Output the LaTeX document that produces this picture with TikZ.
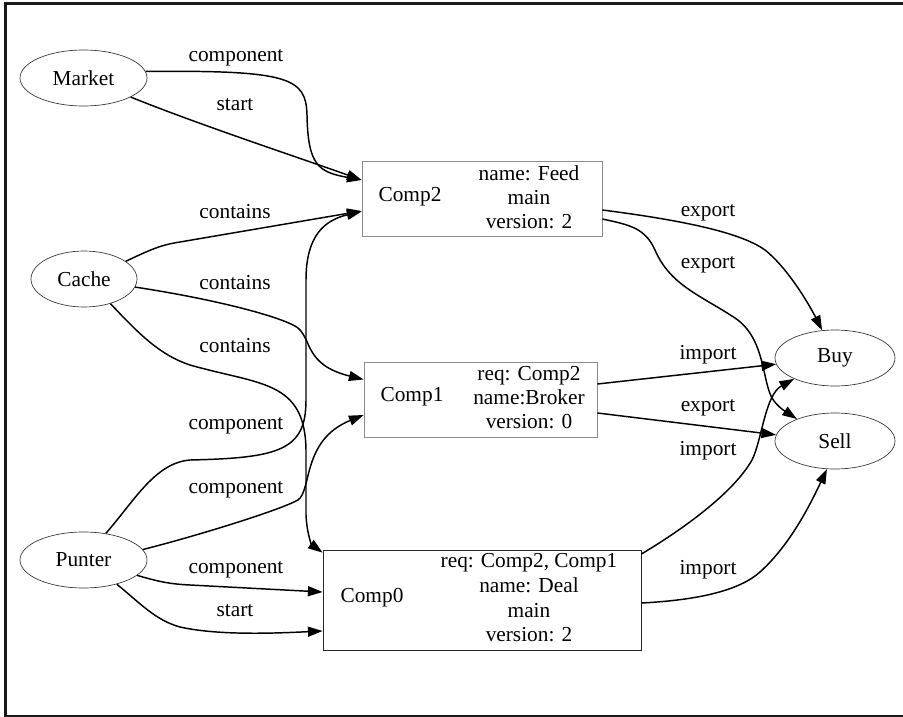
\documentclass[tikz,border=0pt]{standalone}
\usepackage{fontspec}
\setmainfont{Liberation Serif}
\usetikzlibrary{arrows.meta,calc,shapes.geometric}
\begin{document}
\begin{tikzpicture}[x=0.75pt,y=-0.75pt,
  every node/.style={font=\fontsize{16}{18}\selectfont},
  oval/.style={ellipse,draw=black!80,line width=0.5pt,inner sep=0pt,minimum height=42pt},
  compbox/.style={rectangle,draw=black!45,line width=0.6pt,inner sep=0pt},
  lbl/.style={inner sep=0pt},
  info/.style={inner sep=0pt,align=center},
  edge/.style={line width=1.1pt,-{Triangle[length=11pt,width=7.5pt]}},
  frame/.style={line width=2.25pt,black!90}]
\useasboundingbox (0,0) rectangle (903,717);
\draw[frame] (5.5,3.5) -- (903,3.5);
\draw[frame] (5.5,2) -- (5.5,717);
\draw[frame,line width=1.5pt] (5.5,716) -- (903,716);

% nodes
\node[oval,minimum width=95.25pt] (market) at (83.5,78) {Market};
\node[oval,minimum width=79.5pt] (cache) at (84,279) {Cache};
\node[oval,minimum width=95.25pt] (punter) at (83.5,560) {Punter};
\node[oval,minimum width=90pt] (buy) at (835,358) {Buy};
\node[oval,minimum width=90pt] (sell) at (835,441) {Sell};

\node[compbox,minimum width=180pt,minimum height=56.25pt] (comp2) at (482,198.5) {};
\node[compbox,minimum width=174.75pt,minimum height=56.25pt] (comp1) at (480.5,399.5) {};
\node[compbox,draw=black!85,minimum width=238.5pt,minimum height=75pt] (comp0) at (482,600) {};

\node[lbl] (c2name) at (410,197) {Comp2};
\node[info] (c2info) at (529,197.5) {name: Feed\\main\\version: 2};
\node[lbl] (c1name) at (412,397) {Comp1};
\node[info] (c1info) at (529,397.5) {req: Comp2\\name:Broker\\version: 0};
\node[lbl] (c0name) at (372,598) {Comp0};
\node[info,font=\fontsize{16}{18.5}\selectfont] (c0info) at (529,598) {req: Comp2, Comp1\\name: Deal\\main\\version: 2};

% edge labels
\node[lbl] (l1) at (236,58) {component};
\node[lbl] (l2) at (235,105) {start};
\node[lbl] (l3) at (235,212) {contains};
\node[lbl] (l4) at (235,283) {contains};
\node[lbl] (l5) at (235,346) {contains};
\node[lbl] (l6) at (236,426) {component};
\node[lbl] (l7) at (236,490) {component};
\node[lbl] (l8) at (236,570) {component};
\node[lbl] (l9) at (235,611) {start};
\node[lbl] (l10) at (708,213) {export};
\node[lbl] (l11) at (708,265) {export};
\node[lbl] (l12) at (708,355) {import};
\node[lbl] (l13) at (708,408) {export};
\node[lbl] (l14) at (708,451) {import};
\node[lbl] (l15) at (708,570) {import};

% edges
\draw[edge] (market.6) .. controls (290,70) and (306,78) .. (307,115)
  .. controls (308,165) and (318,172) .. ($(comp2.west)+(0,-18.5)$);
\draw[edge] (market.-22) .. controls (200,125) and (300,158) .. ($(comp2.west)+(0,-18.5)$);
\draw[edge] (cache.23) .. controls (150,250) and (160,245) .. (180,242)
  -- ($(comp2.west)+(0,12.5)$);
\draw[edge] (punter.50) .. controls (135,500) and (155,463) .. (190,460)
  .. controls (280,458) and (306,450) .. (306,400) -- (306,280)
  .. controls (306,235) and (325,220) .. ($(comp2.west)+(0,13)$);
\draw[edge] (cache.-9) .. controls (220,300) and (285,318) .. (298,328)
  .. controls (312,340) and (305,365) .. ($(comp1.west)+(0,-20)$);
\draw[edge] (cache.-43) .. controls (140,335) and (160,355) .. (190,365)
  .. controls (260,385) and (305,380) .. (306,450) -- (306,515)
  .. controls (307,535) and (312,545) .. ($(comp0.north west)+(0,3)$);
\draw[edge] (punter.10) .. controls (200,535) and (280,510) .. (298,500)
  .. controls (312,490) and (302,440) .. ($(comp1.west)+(0,15.5)$);
\draw[edge] (punter.-16) .. controls (160,582) and (170,584) .. (190,585)
  -- ($(comp0.west)+(0,-8)$);
\draw[edge] (punter.-36) .. controls (140,603) and (155,620) .. (180,627)
  .. controls (220,636) and (280,633) .. ($(comp0.west)+(0,31)$);
\draw[edge] ($(comp2.east)+(0,11.5)$) .. controls (680,220) and (740,232) .. (765,250)
  .. controls (790,270) and (812,310) .. (buy.115);
\draw[edge] ($(comp2.east)+(0,20.5)$) .. controls (630,225) and (645,228) .. (655,250)
  .. controls (670,285) and (700,295) .. (735,318)
  .. controls (765,338) and (762,380) .. (772,398)
  .. controls (778,408) and (788,413) .. (sell.150);
\draw[edge] ($(comp1.east)+(0,-15.5)$) -- (buy.186);
\draw[edge] ($(comp1.east)+(0,13.5)$) -- (sell.174);
\draw[edge] ($(comp0.east)+(0,-46)$) .. controls (690,525) and (735,490) .. (752,460)
  .. controls (762,440) and (765,395) .. (buy.207);
\draw[edge] ($(comp0.east)+(0,3)$) .. controls (700,600) and (740,590) .. (760,572)
  .. controls (790,545) and (810,505) .. (sell.254);
\end{tikzpicture}
\end{document}
